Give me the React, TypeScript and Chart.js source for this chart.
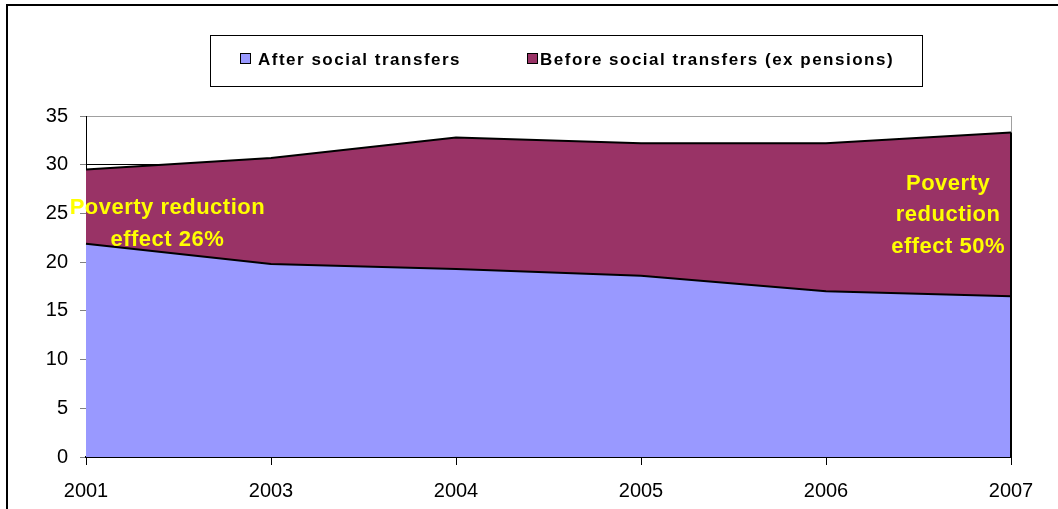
import React, { useEffect, useRef } from 'react';
import { Chart, registerables } from 'chart.js';

Chart.register(...registerables);

const years = ['2001', '2003', '2004', '2005', '2006', '2007'];
const afterTransfers = [21.9, 19.8, 19.3, 18.6, 17.0, 16.5];
const beforeTransfers = [29.5, 30.7, 32.8, 32.2, 32.2, 33.3];
const yTicks = [0, 5, 10, 15, 20, 25, 30, 35];

const seriesLabels = ['After social transfers', 'Before social transfers (ex pensions)'];
const seriesColors = ['#9999FF', '#993366'];

const noteLeftLines = ['Poverty reduction', 'effect 26%'];
const noteRightLines = ['Poverty', 'reduction', 'effect 50%'];

const FONT = '"Liberation Sans", Arial, sans-serif';

// annotation anchors (category index, value) and legend layout
const notes = [
  { lines: noteLeftLines, xIndex: 0.44, yValue: 23.9 },
  { lines: noteRightLines, xIndex: 4.66, yValue: 24.8 },
];
const legendLayout = { x: 210.5, y: 35.5, w: 712, h: 51, midY: 59, items: [{ box: 240, text: 258 }, { box: 527, text: 540 }] };

const decorations = {
  id: 'decorations',
  beforeDatasetsDraw(chart: any) {
    const { ctx, chartArea } = chart;
    ctx.save();
    ctx.strokeStyle = '#a0a0a0';
    ctx.lineWidth = 1;
    ctx.beginPath();
    ctx.moveTo(Math.round(chartArea.right) + 0.5, chartArea.top);
    ctx.lineTo(Math.round(chartArea.right) + 0.5, chartArea.bottom);
    ctx.stroke();
    ctx.restore();
  },
  afterDatasetsDraw(chart: any) {
    const { ctx, scales } = chart;
    const xs = scales.x;
    const ys = scales.y;
    ctx.save();
    const last = beforeTransfers.length - 1;
    const xr = xs.getPixelForValue(last);
    ctx.strokeStyle = '#000';
    ctx.lineWidth = 2;
    ctx.beginPath();
    ctx.moveTo(xr, ys.getPixelForValue(beforeTransfers[last]));
    ctx.lineTo(xr, ys.getPixelForValue(0));
    ctx.stroke();
    ctx.fillStyle = '#FFFF00';
    ctx.font = `bold 22px ${FONT}`;
    (ctx as any).letterSpacing = '0.5px';
    ctx.textAlign = 'center';
    ctx.textBaseline = 'middle';
    const lh = 31.5;
    notes.forEach((n) => {
      const cx = xs.getPixelForValue(n.xIndex);
      const cy = ys.getPixelForValue(n.yValue);
      const y0 = cy - ((n.lines.length - 1) * lh) / 2;
      n.lines.forEach((t, i) => ctx.fillText(t, cx, y0 + i * lh));
    });
    ctx.restore();
  },
  afterDraw(chart: any) {
    const { ctx } = chart;
    ctx.save();
    ctx.strokeStyle = '#000';
    ctx.lineWidth = 2;
    ctx.beginPath();
    ctx.moveTo(7, chart.height + 5);
    ctx.lineTo(7, 5);
    ctx.lineTo(chart.width + 5, 5);
    ctx.stroke();
    const L = legendLayout;
    ctx.lineWidth = 1;
    ctx.strokeRect(L.x, L.y, L.w, L.h);
    ctx.font = `bold 17px ${FONT}`;
    (ctx as any).letterSpacing = '1.5px';
    ctx.textAlign = 'left';
    ctx.textBaseline = 'middle';
    L.items.forEach((it, i) => {
      ctx.fillStyle = seriesColors[i];
      ctx.fillRect(it.box + 0.5, L.midY - 5.5, 10, 10);
      ctx.strokeStyle = '#000';
      ctx.strokeRect(it.box + 0.5, L.midY - 5.5, 10, 10);
      ctx.fillStyle = '#000';
      ctx.fillText(seriesLabels[i], it.text, L.midY + 1);
    });
    ctx.restore();
  },
};

export default function App() {
  const ref = useRef<HTMLCanvasElement>(null);
  useEffect(() => {
    document.body.style.margin = '0';
    const chart = new Chart(ref.current as HTMLCanvasElement, {
      type: 'line',
      data: {
        labels: years,
        datasets: [
          {
            label: seriesLabels[0],
            data: afterTransfers,
            backgroundColor: seriesColors[0],
            borderColor: '#000',
            borderWidth: 2,
            fill: 'origin',
            pointRadius: 0,
            tension: 0,
          },
          {
            label: seriesLabels[1],
            data: beforeTransfers,
            backgroundColor: seriesColors[1],
            borderColor: '#000',
            borderWidth: 2,
            fill: 'origin',
            pointRadius: 0,
            tension: 0,
          },
        ],
      },
      options: {
        animation: false,
        responsive: false,
        layout: { padding: { top: 116, right: 47, left: 0, bottom: 0 } },
        plugins: { legend: { display: false }, tooltip: { enabled: false } },
        scales: {
          x: {
            type: 'category',
            offset: false,
            grid: { drawOnChartArea: false, drawTicks: true, tickLength: 8, tickColor: '#000', offset: false },
            border: { color: '#000', width: 2 },
            ticks: { font: { size: 20, family: FONT }, color: '#000', padding: 14, maxRotation: 0, autoSkip: false },
            afterFit: (s: any) => { s.height = 52; },
          },
          y: {
            min: 0,
            max: 35,
            afterBuildTicks: (s: any) => { s.ticks = yTicks.map((v) => ({ value: v })); },
            ticks: { font: { size: 20, family: FONT }, color: '#000', padding: 12 },
            grid: {
              color: (c: any) => (c.tick && c.tick.value === 35 ? '#a0a0a0' : '#000'),
              lineWidth: 1,
              tickLength: 6,
              tickColor: '#808080',
            },
            border: { color: '#000', width: 1 },
            afterFit: (s: any) => { s.width = 86; },
          },
        },
      },
      plugins: [decorations],
    });
    return () => chart.destroy();
  }, []);
  return <canvas ref={ref} width={1058} height={509} style={{ display: 'block' }} />;
}
